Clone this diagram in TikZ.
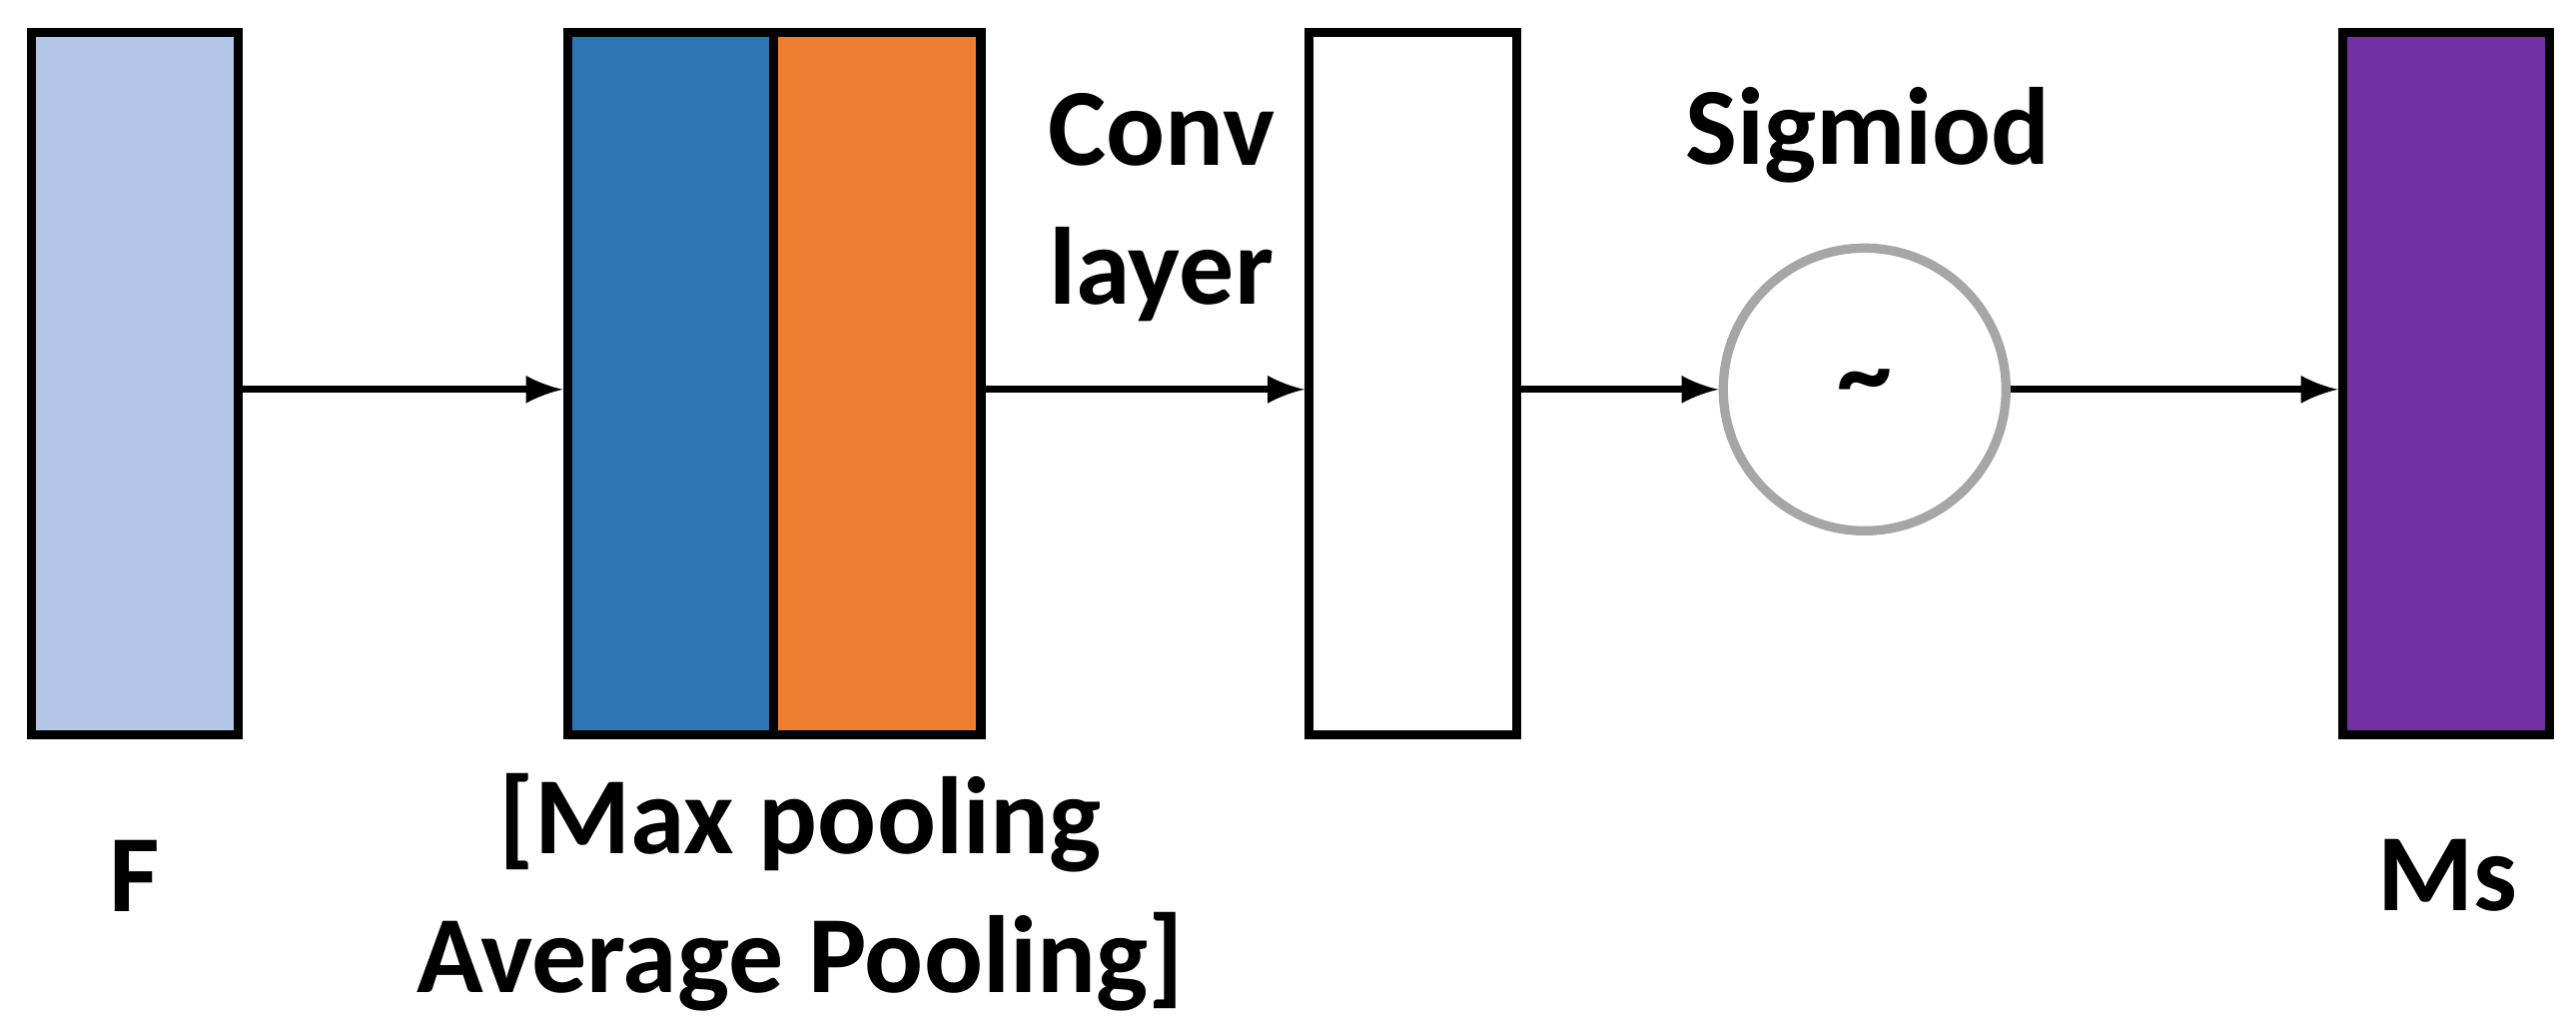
\documentclass[tikz,border=0pt]{standalone}
\usepackage{fontspec}
\setmainfont{Carlito}
\usetikzlibrary{positioning}
\begin{document}
\begin{tikzpicture}[x=0.01cm,y=-0.01cm,
  block/.style={draw,line width=1.6pt,minimum width=1.26cm,minimum height=4.27cm,inner sep=0pt},
  lbl/.style={font=\fontsize{19}{24}\selectfont\bfseries,align=center},
  link/.style={-latex,line width=1.2pt}]
\useasboundingbox (0,0) rectangle (1568,626);
\node[block,fill={rgb,255:red,180;green,199;blue,231}] (F) at (82,233.5) {};
\node[block,fill={rgb,255:red,46;green,117;blue,182}] (max) at (408.5,233.5) {};
\node[block,fill={rgb,255:red,237;green,125;blue,49}] (avg) at (534,233.5) {};
\node[block,fill=white] (conv) at (860,233.5) {};
\node[draw={rgb,255:red,166;green,166;blue,166},line width=1.6pt,circle,minimum size=1.72cm,inner sep=0pt] (sig) at (1135,237) {\fontsize{19}{24}\selectfont\bfseries\textasciitilde};
\node[block,fill={rgb,255:red,112;green,48;blue,160}] (Ms) at (1489,233.5) {};
\foreach \a/\b in {F/max,avg/conv,conv/sig,sig/Ms} {
  \draw[link] (\a.east|-sig) -- (\b.west|-sig);
}
% labels
\node[lbl] (Ftxt) at (82,533) {F};
\node[lbl] (pooltxt) at (487,543) {[Max pooling\\Average Pooling]};
\node[lbl] (Mstxt) at (1490,533) {Ms};
\node[lbl] (convtxt) at (707,126) {Conv\\layer};
\node[lbl] (sigtxt) at (1137,82) {Sigmiod};
\end{tikzpicture}
\end{document}
